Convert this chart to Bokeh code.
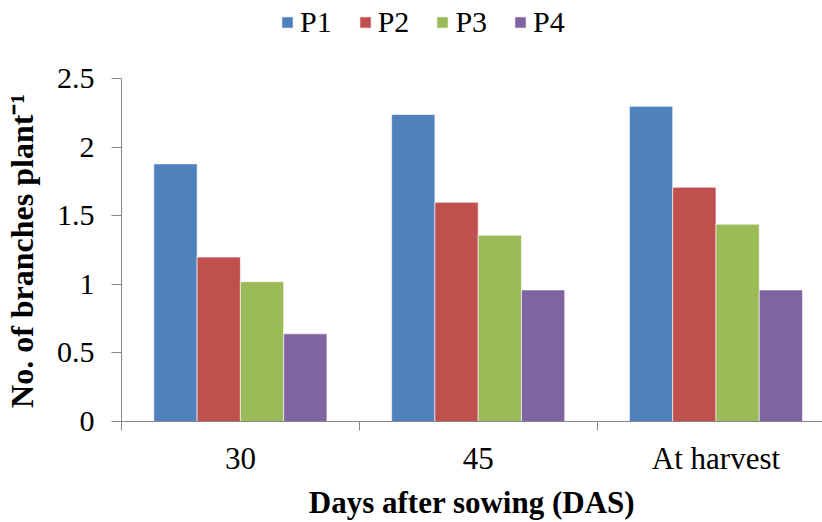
from bokeh.plotting import figure
from bokeh.models import (Range1d, FixedTicker, CustomJSTickFormatter,
                          NumeralTickFormatter, ColumnDataSource)
from bokeh.embed import file_html
from bokeh.resources import INLINE

# ---- data -------------------------------------------------------------
categories = ["30", "45", "At harvest"]
series_names = ["P1", "P2", "P3", "P4"]
p1 = [1.88, 2.24, 2.30]
p2 = [1.20, 1.60, 1.71]
p3 = [1.02, 1.36, 1.44]
p4 = [0.64, 0.96, 0.96]
colors = ["#4F81BD", "#C0504D", "#9BBB59", "#8064A2"]
y_ticks = [0, 0.5, 1, 1.5, 2, 2.5]

series = [p1, p2, p3, p4]

FONT = "Liberation Serif"

# frame spans from the page top down to the x axis; the y axis line is
# bounded to 0..2.5 so the space above holds the legend
p = figure(width=822, height=522, output_backend="svg", toolbar_location=None,
           x_range=Range1d(0, 2.948), y_range=Range1d(0, 3.0725),
           min_border_left=121, min_border_right=0,
           min_border_top=0, min_border_bottom=98)

p.outline_line_color = None
p.xgrid.visible = False
p.ygrid.visible = False
p.background_fill_color = "white"
p.border_fill_color = "white"

bar_w = 0.182
n = len(series)
centers = [i + 0.5 for i in range(len(categories))]
for k, (name, vals, col) in enumerate(zip(series_names, series, colors)):
    off = (k - (n - 1) / 2) * bar_w
    src = ColumnDataSource(dict(x=[c + off for c in centers], top=vals))
    p.vbar(x="x", top="top", width=bar_w, source=src, fill_color=col,
           line_color="white", line_alpha=0.6, line_width=1,
           legend_label=name)

axis_col = "#868686"

# x axis
xa = p.xaxis[0]
xa.ticker = FixedTicker(ticks=centers, minor_ticks=list(range(len(categories) + 1)))
xa.formatter = CustomJSTickFormatter(args=dict(labels=categories),
                                     code="return labels[Math.floor(tick)] || ''")
xa.axis_line_color = axis_col
xa.major_tick_line_color = None
xa.major_tick_out = 9
xa.major_tick_in = 0
xa.minor_tick_line_color = axis_col
xa.minor_tick_out = 9
xa.minor_tick_in = 0
xa.major_label_text_font = FONT
xa.major_label_text_font_size = "31px"
xa.major_label_text_color = "black"
xa.major_label_standoff = 10
xa.axis_label = "Days after sowing (DAS)"
xa.axis_label_text_font = FONT
xa.axis_label_text_font_style = "bold"
xa.axis_label_text_font_size = "31px"
xa.axis_label_text_color = "black"
xa.axis_label_standoff = 6

# y axis (line limited to 0..2.5)
ya = p.yaxis[0]
ya.ticker = FixedTicker(ticks=y_ticks, minor_ticks=[])
ya.formatter = NumeralTickFormatter(format="0.[0]")
ya.bounds = (0, 2.5)
ya.axis_line_color = axis_col
ya.major_tick_line_color = axis_col
ya.major_tick_out = 10
ya.major_tick_in = 0
ya.minor_tick_line_color = None
ya.major_label_text_font = FONT
ya.major_label_text_font_size = "30px"
ya.major_label_text_color = "black"
ya.major_label_standoff = 17
# trailing no-break spaces centre the visible title on the 0..2.5 span
ya.axis_label = "No. of branches plant\u207b\u00b9" + "\u00a0" * 10
ya.axis_label_text_font = FONT
ya.axis_label_text_font_style = "bold"
ya.axis_label_text_font_size = "32px"
ya.axis_label_text_color = "black"
ya.axis_label_standoff = 14

# legend
lg = p.legend[0]
lg.orientation = "horizontal"
lg.location = (159, 382)
lg.border_line_color = None
lg.background_fill_alpha = 0
lg.label_text_font = FONT
lg.label_text_font_size = "30px"
lg.label_text_color = "black"
lg.glyph_width = 14
lg.glyph_height = 14
lg.label_standoff = 6
lg.spacing = 26
lg.padding = 0
lg.margin = 0

open("out.html", "w").write(file_html(p, INLINE))
